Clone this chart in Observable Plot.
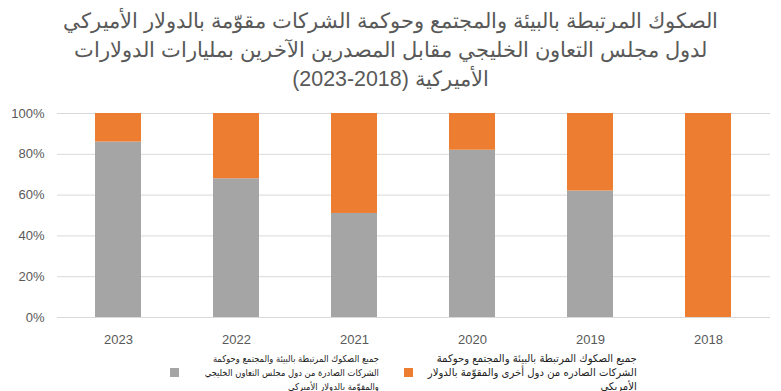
<!DOCTYPE html>
<html><head><meta charset="utf-8">
<script src="https://cdn.jsdelivr.net/npm/d3@7"></script>
<script src="https://cdn.jsdelivr.net/npm/@observablehq/plot@0.6"></script>
<style>
html,body{margin:0;padding:0;background:#fff;width:781px;height:391px;overflow:hidden;font-family:"Liberation Sans",Arial,sans-serif;}
#title{position:absolute;left:0;top:7px;width:781px;text-align:center;color:#595959;font-size:21.4px;line-height:29px;direction:rtl;}
#chart{position:absolute;left:0;top:100px;}
.leg{position:absolute;direction:rtl;text-align:right;color:#222;white-space:nowrap;transform-origin:right top;font-family:"DejaVu Sans",sans-serif;}
.sw{position:absolute;width:9px;height:9px;}
</style></head>
<body>
<div id="title">الصكوك المرتبطة بالبيئة والمجتمع وحوكمة الشركات مقوّمة بالدولار الأميركي<br>لدول مجلس التعاون الخليجي مقابل المصدرين الآخرين بمليارات الدولارات<br>الأميركية (2018-2023)</div>
<div id="chart"></div>
<div class="sw" id="sw0" style="left:170px;top:368px;"></div>
<div class="leg" id="lg0" style="right:402px;top:352px;font-size:9.5px;line-height:14px;"></div>
<div class="sw" id="sw1" style="left:404px;top:368px;"></div>
<div class="leg" id="lg1" style="right:144px;top:351px;font-size:10.5px;line-height:14px;"></div>
<script>
const years = ["2023","2022","2021","2020","2019","2018"];
const gccShare = [0.86, 0.68, 0.51, 0.82, 0.62, 0.0];
const otherShare = [0.14, 0.32, 0.49, 0.18, 0.38, 1.0];
const seriesNames = [
  "جميع الصكوك المرتبطة بالبيئة والمجتمع وحوكمة الشركات الصادرة من دول مجلس التعاون الخليجي والمقوّمة بالدولار الأميركي",
  "جميع الصكوك المرتبطة بالبيئة والمجتمع وحوكمة الشركات الصادره من دول أخرى والمقوّمة بالدولار الأمريكي"
];
const legendLines = [
  ["جميع الصكوك المرتبطة بالبيئة والمجتمع وحوكمة","الشركات الصادرة من دول مجلس التعاون الخليجي","والمقوّمة بالدولار الأميركي"],
  ["جميع الصكوك المرتبطة بالبيئة والمجتمع وحوكمة","الشركات الصادره من دول أخرى والمقوّمة بالدولار","الأمريكي"]
];
const legendWidths = [166, 200];
const colors = ["#A5A5A5", "#ED7D31"];
const yTicks = [0, 0.2, 0.4, 0.6, 0.8, 1.0];

const data = [];
years.forEach((y, i) => {
  data.push({year: y, series: seriesNames[0], value: gccShare[i]});
  data.push({year: y, series: seriesNames[1], value: otherShare[i]});
});

const chart = Plot.plot({
  width: 781,
  height: 248,
  marginLeft: 57,
  marginRight: 11,
  marginTop: 13,
  marginBottom: 31,
  style: {fontFamily: "'Liberation Sans', Arial, sans-serif", fontSize: "13px", color: "#595959", background: "transparent"},
  x: {domain: years, paddingInner: 0.61, paddingOuter: 0.305, label: null},
  y: {domain: [0, 1], label: null},
  color: {domain: seriesNames, range: colors},
  marks: [
    Plot.gridY(yTicks, {stroke: "#D9D9D9", strokeOpacity: 1, strokeWidth: 1}),
    Plot.barY(data, {x: "year", y: "value", fill: "series", order: seriesNames}),
    Plot.axisX({tickSize: 0, tickPadding: 17, label: null, fill: "#595959"}),
    Plot.axisY({ticks: yTicks, tickFormat: d3.format(".0%"), tickSize: 0, tickPadding: 13, label: null, fill: "#595959"})
  ]
});
document.getElementById("chart").appendChild(chart);

[0,1].forEach(i => {
  document.getElementById("sw" + i).style.background = colors[i];
  const el = document.getElementById("lg" + i);
  legendLines[i].forEach(t => {
    const d = document.createElement("div");
    const s = document.createElement("span");
    s.textContent = t;
    d.appendChild(s);
    el.appendChild(d);
  });
  const w = el.firstChild.firstChild.getBoundingClientRect().width;
  el.style.transform = `scaleX(${legendWidths[i] / w})`;
});
</script>
</body></html>
